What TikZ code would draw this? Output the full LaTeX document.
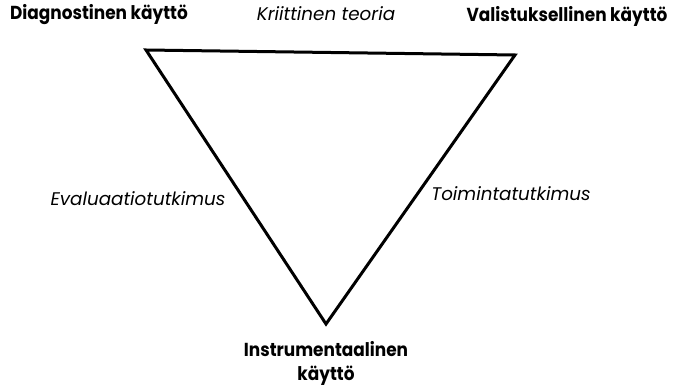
\documentclass[tikz,border=0pt]{standalone}
\usepackage{fontspec}
\setmainfont{Poppins}
\newfontfamily\kulmafont[FakeStretch=0.9]{Poppins}
\usetikzlibrary{positioning}

\begin{document}
\begin{tikzpicture}[x=1pt,y=-1pt,
  kulma/.style={font=\kulmafont\bfseries\fontsize{18.8}{24}\selectfont,align=center,inner sep=0pt},
  sivu/.style={font=\itshape\fontsize{18.3}{20}\selectfont,inner sep=0pt}]
\useasboundingbox (0,0) rectangle (673,387);

\coordinate (vasen) at (146,50);
\coordinate (oikea) at (515,55);
\coordinate (ala) at (326,324);
\draw[line width=3pt,line join=miter] (vasen) -- (oikea) -- (ala) -- cycle;

\node[kulma] (diag) at (99,15) {Diagnostinen käyttö};
\node[kulma] (valist) at (567,16) {Valistuksellinen käyttö};
\node[kulma] (instr) at (326,363) {Instrumentaalinen\\käyttö};

\node[sivu] (krit) at (326,14) {Kriittinen teoria};
\node[sivu] (eval) at (138,199) {Evaluaatiotutkimus};
\node[sivu] (toim) at (511,194) {Toimintatutkimus};

\end{tikzpicture}
\end{document}
